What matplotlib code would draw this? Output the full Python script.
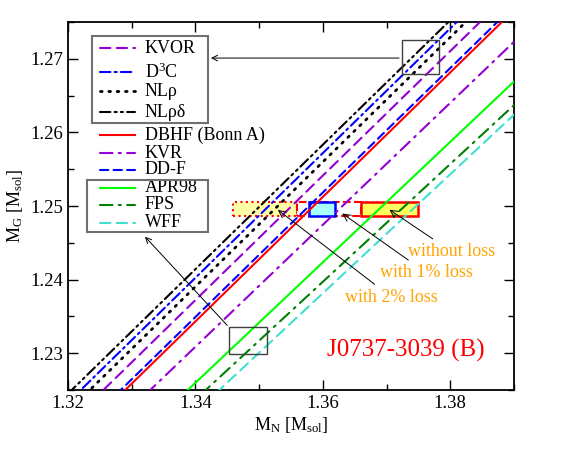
import matplotlib
matplotlib.use("Agg")
import matplotlib.pyplot as plt
from matplotlib.patches import Rectangle
from matplotlib.lines import Line2D

plt.rcParams["font.family"] = ["Liberation Serif", "DejaVu Serif"]
plt.rcParams["mathtext.default"] = "regular"

# EOS curves M_G(M_N): two points each, at M_N = 1.32 and 1.39
eos_names = ["KVOR", "D$^3$C", "NLρ", "NLρδ", "DBHF (Bonn A)",
             "KVR", "DD-F", "APR98", "FPS", "WFF"]
mn_ends = [1.32, 1.39]
mg_kvor = [1.2203, 1.2795]
mg_d3c = [1.2233, 1.2826]
mg_nlr = [1.2221, 1.2814]
mg_nlrd = [1.2245, 1.2837]
mg_dbhf = [1.2174, 1.2766]
mg_kvr = [1.2143, 1.2723]
mg_ddf = [1.2180, 1.2772]
mg_apr = [1.2096, 1.2669]
mg_fps = [1.2077, 1.2637]
mg_wff = [1.2058, 1.2624]
eos_values = [mg_kvor, mg_d3c, mg_nlr, mg_nlrd, mg_dbhf,
              mg_kvr, mg_ddf, mg_apr, mg_fps, mg_wff]

eos_colors = ["#9400D3", "#0000FF", "black", "black", "#FF0000",
              "#9400D3", "#0000FF", "#00FF00", "#008000", "#40E0D0"]
eos_dashes = [(5, 3), (5, 2, 1, 2), (0.6, 2.4), (5, 2, 1, 2, 1, 2), None,
              (6, 3, 1, 3), (4, 2.5), None, (6, 3, 1, 3), (5, 3)]
eos_lw = [1.5, 1.5, 2.0, 1.5, 1.5, 1.5, 1.5, 1.5, 1.5, 1.5]

# M_G of J0737-3039 (B) and M_N ranges
mg_band = [1.2486, 1.2505]
mn_no_loss = [1.3660, 1.3749]
mn_1pct = [1.3559, 1.3660]
mn_1pct_core = [1.3578, 1.3619]
mn_2pct = [1.3459, 1.3559]

fig = plt.figure(figsize=(5.81, 4.49), dpi=100)
ax = fig.add_axes([0.117, 0.1314, 0.7676, 0.8196])

for vals, col, dsh, w in zip(eos_values, eos_colors, eos_dashes, eos_lw):
    ln, = ax.plot(mn_ends, vals, color=col, lw=w, zorder=3, dash_capstyle="round")
    if dsh is not None:
        ln.set_dashes(dsh)

h = mg_band[1] - mg_band[0]
ax.add_patch(Rectangle((mn_2pct[0], mg_band[0]), mn_2pct[1] - mn_2pct[0], h,
                       facecolor="#FFFFA8", edgecolor="red", lw=1.5, ls=":", zorder=2))
ax.add_patch(Rectangle((mn_1pct[0], mg_band[0]), mn_1pct[1] - mn_1pct[0], h,
                       facecolor="white", edgecolor="red", lw=1.5, ls="--", zorder=2))
ax.add_patch(Rectangle((mn_1pct_core[0], mg_band[0]), mn_1pct_core[1] - mn_1pct_core[0], h,
                       facecolor="#A8FFFF", edgecolor="blue", lw=1.8, zorder=2))
ax.add_patch(Rectangle((mn_no_loss[0], mg_band[0]), mn_no_loss[1] - mn_no_loss[0], h,
                       facecolor="#FFFF60", edgecolor="red", lw=1.8, zorder=2))

# zoom boxes
ax.add_patch(Rectangle((1.3724, 1.2679), 0.0059, 0.0046, fill=False,
                       edgecolor="#404040", lw=1, zorder=4))
ax.add_patch(Rectangle((1.3453, 1.2299), 0.0060, 0.0036, fill=False,
                       edgecolor="#404040", lw=1, zorder=4))

arrow = dict(arrowstyle="->", color="black", lw=0.7)
ax.annotate("", xy=(1.3420, 1.2701), xytext=(1.3724, 1.2701), arrowprops=arrow)
ax.annotate("", xy=(1.3318, 1.2461), xytext=(1.3453, 1.2335), arrowprops=arrow)

orange = "#FFA500"
ax.annotate("without loss", xy=(1.3701, 1.2497), xytext=(1.3734, 1.2438),
            color=orange, fontsize=13, va="center", arrowprops=arrow)
ax.annotate("with 1% loss", xy=(1.3627, 1.2492), xytext=(1.3690, 1.2409),
            color=orange, fontsize=13, va="center", arrowprops=arrow)
ax.annotate("with 2% loss", xy=(1.3526, 1.2497), xytext=(1.3635, 1.2376),
            color=orange, fontsize=13, va="center", arrowprops=arrow)
ax.text(1.3607, 1.2304, "J0737-3039 (B)", color="red", fontsize=18, va="center")

# legend drawn by hand (two framed groups)
row_y = [0.929, 0.864, 0.8125, 0.755, 0.693, 0.644, 0.598, 0.549, 0.503, 0.454]
for name, col, dsh, w, yy in zip(eos_names, eos_colors, eos_dashes, eos_lw, row_y):
    ln = Line2D([0.0717, 0.1502], [yy, yy], transform=ax.transAxes,
                color=col, lw=w, zorder=5, dash_capstyle="round")
    if dsh is not None:
        ln.set_dashes(dsh)
    ax.add_line(ln)
    ax.text(0.1726, yy, name, transform=ax.transAxes, fontsize=13, va="center")
ax.add_patch(Rectangle((0.0538, 0.7255), 0.2601, 0.2365, transform=ax.transAxes,
                       fill=False, edgecolor="#707070", lw=1.5, zorder=5))
ax.add_patch(Rectangle((0.0426, 0.4293), 0.2713, 0.1414, transform=ax.transAxes,
                       fill=False, edgecolor="#707070", lw=1.5, zorder=5))

ax.set_xlim(1.32, 1.39)
ax.set_ylim(1.225, 1.275)
ax.set_xticks([1.32, 1.34, 1.36, 1.38])
ax.set_xticks([1.33, 1.35, 1.37, 1.39], minor=True)
ax.set_yticks([1.23, 1.24, 1.25, 1.26, 1.27])
ax.set_yticks([1.225, 1.235, 1.245, 1.255, 1.265, 1.275], minor=True)
ax.tick_params(which="both", direction="in", top=True, right=True, labelsize=13.5)
ax.tick_params(which="major", length=7, width=1)
ax.tick_params(which="minor", length=4, width=1)
for s in ax.spines.values():
    s.set_linewidth(1.3)

ax.set_xlabel("M$_N$ [M$_{sol}$]", fontsize=13, labelpad=2)
ax.set_ylabel("M$_G$ [M$_{sol}$]", fontsize=13, labelpad=4)

fig.savefig("out.png", dpi=100)
